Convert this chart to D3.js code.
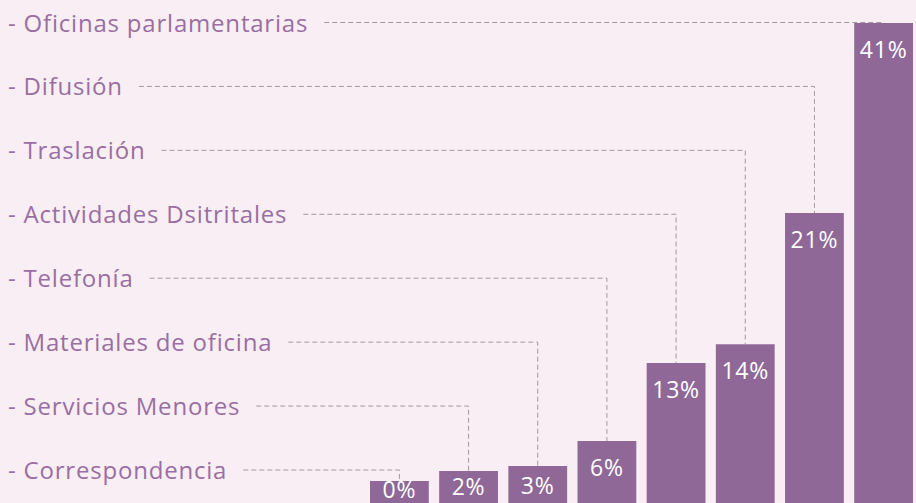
<!DOCTYPE html>
<meta charset="utf-8">
<script src="https://d3js.org/d3.v7.min.js"></script>
<style>
body{ margin:0; background:#f8eef4; }
#gastos-chart text{ font-family: "Open Sans", sans-serif; }
</style>
<div id="gastos-chart"></div>
<script>
// categories, smallest to largest (bars left to right)
var categories = ["Correspondencia", "Servicios Menores", "Materiales de oficina", "Telefonía",
                  "Actividades Dsitritales", "Traslación", "Difusión", "Oficinas parlamentarias"];
var values = [0, 2, 3, 6, 13, 14, 21, 41];
// the bars are not drawn to scale in the original, so the y scale is piecewise
var yKnots = [0, 3, 6, 13, 21, 41];

var width = 916, height = 503;
var barColor = "#8f6898", labelColor = "#9a6ea1", lineColor = "#a09ba0";

var svg = d3.select("#gastos-chart").append("svg")
    .attr("width", width)
    .attr("height", height);

svg.append("rect").attr("width", width).attr("height", height).attr("fill", "#f8eef4");

var x = d3.scaleBand()
    .domain(categories)
    .range([370, 913])
    .paddingInner(0.15)
    .paddingOuter(0);

var y = d3.scaleLinear()
    .domain(yKnots)
    .range([481, 466, 441, 363, 213, 23]);

// label rows, largest on top
var row = d3.scalePoint()
    .domain(categories.slice().reverse())
    .range([22.5, 470]);

var data = categories.map(function(c, i){ return { name: c, value: values[i] }; });

// bars
svg.selectAll(".bar").data(data).enter().append("rect")
    .attr("class", "bar")
    .attr("x", function(d){ return x(d.name); })
    .attr("y", function(d){ return y(d.value); })
    .attr("width", x.bandwidth())
    .attr("height", function(d){ return height - y(d.value); })
    .attr("fill", barColor);

// labels on the left
var labels = svg.selectAll(".lbl").data(data).enter().append("text")
    .attr("class", "lbl")
    .attr("x", 8)
    .attr("y", function(d){ return row(d.name) + 9; })
    .attr("fill", labelColor)
    .attr("font-size", "24px")
    .attr("letter-spacing", "0.8px")
    .text(function(d){ return "- " + d.name; });

// dashed leader lines
labels.each(function(d){
    var end = 8 + this.getComputedTextLength() + 16;
    var cx = x(d.name) + x.bandwidth() / 2;
    var ly = row(d.name);
    svg.append("path")
        .attr("d", "M" + end + "," + ly + "H" + cx + "V" + y(d.value))
        .attr("fill", "none")
        .attr("stroke", lineColor)
        .attr("stroke-width", 1)
        .attr("stroke-dasharray", "5,3");
});

// percentages inside bars
svg.selectAll(".pct").data(data).enter().append("text")
    .attr("class", "pct")
    .attr("x", function(d){ return x(d.name) + x.bandwidth() / 2; })
    .attr("y", function(d){
        var top = y(d.value);
        return top + Math.min(35, (height - top) * 0.75);
    })
    .attr("text-anchor", "middle")
    .attr("fill", "white")
    .attr("font-size", "23px")
    .attr("letter-spacing", "0.8px")
    .text(function(d){ return d.value + "%"; });
</script>
